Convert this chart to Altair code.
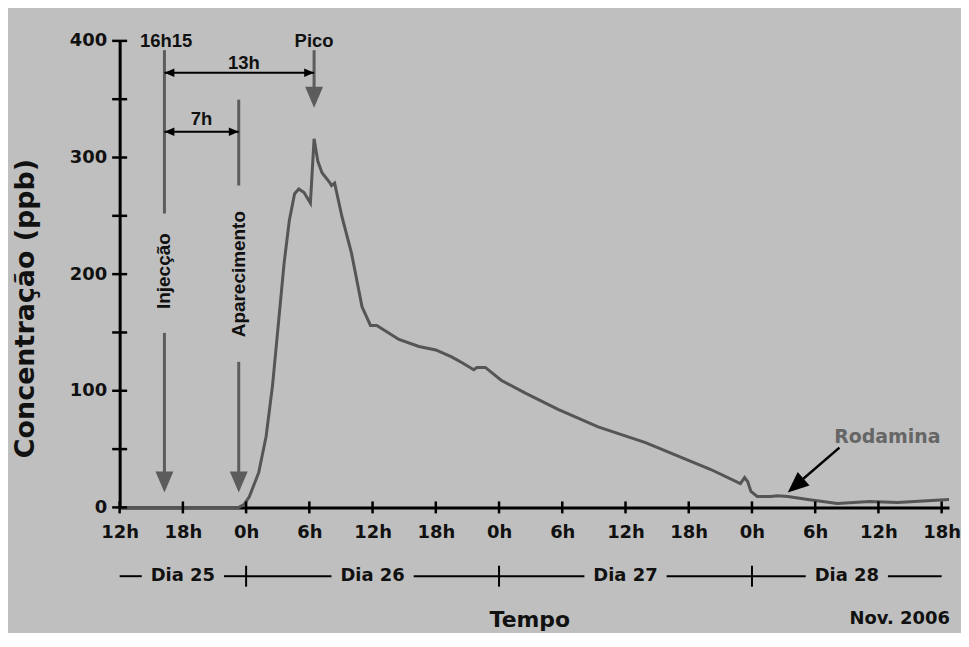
import altair as alt
import pandas as pd

# ---- data: hours since 12h of 25 Nov 2006, concentration (ppb) ----
hours = [0, 11.3, 11.8, 12.3, 13.2, 13.9, 14.5, 15.1, 15.6, 16.1,
         16.6, 17.0, 17.5, 18.1, 18.45, 18.8, 19.2, 19.9, 20.1, 20.4,
         21.1, 22.0, 23.0, 23.8, 24.4, 26.5, 28.4, 30.0, 31.5, 32.5,
         33.6, 33.9, 34.7, 36.2, 38.5, 41.6, 45.4, 49.9, 56.1, 58.9,
         59.3, 59.6, 59.9, 60.5, 61.8, 62.4, 63.4, 65.3, 68.1, 71.2,
         73.8, 78.7]
ppb = [0, 0, 2.5, 9, 30, 61, 104, 161, 209, 246,
       269, 273, 270, 261, 316, 297, 287, 279, 276, 278,
       249, 218, 172, 156, 156, 144, 138, 135, 129, 124,
       118, 120, 120, 109, 98, 84, 69, 55.5, 32.5, 20.5,
       25.6, 22, 13.7, 9.4, 9.4, 10, 9.4, 6.8, 3.4, 5,
       4.3, 6.8]

x_tick_values = list(range(0, 79, 6))          # 12h, 18h, 0h, ... 18h
y_label_values = [0, 100, 200, 300, 400]
y_tick_values = [0, 50, 100, 150, 200, 250, 300, 350, 400]

days = ["Dia 25", "Dia 26", "Dia 27", "Dia 28"]
day_start = [0, 12, 36, 60]
day_end = [12, 36, 60, 78]
day_boundaries = [12, 36, 60]

# annotation anchors (hours, ppb)
inj_h, app_h, pico_h = 4.25, 11.3, 18.45

# ---- styles ----
BG = "#bfbfbf"
CURVE = "#555555"
ANN_GREY = "#5c5c5c"
TXT = "#111111"
AX_FONT = "DejaVu Sans"
ANN_FONT = "Liberation Sans"
HEAD = "M-0.9,-2.1L0.9,-2.1L0,0Z"   # arrow head, tip at origin, pointing down

xs = alt.Scale(domain=[0, 78.7], nice=False, zero=False)
ys = alt.Scale(domain=[0, 400], nice=False)

ROW_Y = 537  # pixel row for the day bar (relative to plot top)


def X(field):
    return alt.X(field, scale=xs)


def Y(field):
    return alt.Y(field, scale=ys)


series = pd.DataFrame({"h": hours, "v": ppb})

line = alt.Chart(series).mark_line(color=CURVE, strokeWidth=3).encode(
    x=alt.X("h:Q", scale=xs, axis=alt.Axis(
        values=x_tick_values,
        labelExpr="((datum.value + 12) % 24) + 'h'",
        ticks=False, grid=False,
        domainColor="black", domainWidth=3,
        labelFont=AX_FONT, labelFontWeight="bold", labelFontSize=18,
        labelColor=TXT, labelPadding=25, labelBaseline="middle",
        labelFlush=False, labelOverlap=False, labelBound=False,
        title="Tempo", titleFont=AX_FONT, titleFontWeight="bold",
        titleFontSize=22, titleColor=TXT, titleX=411, titleY=112,
        titleBaseline="middle", titleAlign="center")),
    y=alt.Y("v:Q", scale=ys, axis=alt.Axis(
        values=y_label_values,
        ticks=False, grid=False,
        domainColor="black", domainWidth=3,
        labelFont=AX_FONT, labelFontWeight="bold", labelFontSize=18,
        labelColor=TXT, labelPadding=13, labelOverlap=False,
        labelFlush=False, labelBound=False,
        title="Concentração (ppb)", titleFont=AX_FONT,
        titleFontWeight="bold", titleFontSize=27, titleColor=TXT,
        titleAngle=270, titleX=-94, titleY=268, titleBaseline="middle",
        titleAlign="center")),
)

# crossing axis ticks
xt = pd.DataFrame({"h": x_tick_values, "v": [0] * len(x_tick_values)})
x_ticks = alt.Chart(xt).mark_tick(orient="vertical", size=12, thickness=2.5,
                                  color="black", opacity=1).encode(
    x=X("h:Q"), y=Y("v:Q"))

yt = pd.DataFrame({"v": y_tick_values, "h": [0] * len(y_tick_values)})
y_ticks = alt.Chart(yt).mark_tick(orient="horizontal", size=15, thickness=2.5,
                                  color="black", opacity=1).encode(
    x=X("h:Q"), y=Y("v:Q"))

# day bar
gap = 3.9
seg_a, seg_b = [], []
mids = []
for s, e in zip(day_start, day_end):
    m = (s + e) / 2
    mids.append(m)
    seg_a += [s, m + gap]
    seg_b += [m - gap, e]
segs = pd.DataFrame({"h": seg_a, "h2": seg_b})
day_rules = alt.Chart(segs).mark_rule(color="black", strokeWidth=2).encode(
    x=X("h:Q"), x2="h2:Q", y=alt.value(ROW_Y))
bd = pd.DataFrame({"h": day_boundaries})
day_ticks = alt.Chart(bd).mark_tick(orient="vertical", size=21, thickness=2,
                                    color="black", opacity=1).encode(
    x=X("h:Q"), y=alt.value(ROW_Y))
dl = pd.DataFrame({"h": mids, "t": days})
day_text = alt.Chart(dl).mark_text(font=AX_FONT, fontWeight="bold", fontSize=18,
                                   color=TXT, baseline="middle").encode(
    x=X("h:Q"), y=alt.value(ROW_Y), text="t:N")

nov = alt.Chart(pd.DataFrame({"t": ["Nov. 2006"]})).mark_text(
    font=AX_FONT, fontWeight="bold", fontSize=18, color=TXT,
    baseline="middle", align="center").encode(
    x=alt.value(782.5), y=alt.value(580), text="t:N")

# grey vertical arrows
gl = pd.DataFrame({"h": [inj_h, inj_h, app_h, app_h, pico_h],
                   "v": [392, 149.6, 349.6, 124.8, 392],
                   "v2": [252, 25, 276, 25, 357]})
grey_lines = alt.Chart(gl).mark_rule(color=ANN_GREY, strokeWidth=3).encode(
    x=X("h:Q"), y=Y("v:Q"), y2="v2:Q")
gh = pd.DataFrame({"h": [inj_h, app_h, pico_h], "v": [12.8, 12.8, 342.7]})
grey_heads = alt.Chart(gh).mark_point(shape=HEAD, size=400, filled=True,
                                      opacity=1, color=ANN_GREY, strokeWidth=0).encode(
    x=X("h:Q"), y=Y("v:Q"))

# black double arrows (7h, 13h)
da = pd.DataFrame({"h": [inj_h, inj_h], "h2": [app_h, pico_h], "v": [322, 372.6]})
dbl_lines = alt.Chart(da).mark_rule(color="black", strokeWidth=2).encode(
    x=X("h:Q"), x2="h2:Q", y=Y("v:Q"))
dh = pd.DataFrame({"h": [inj_h, app_h, inj_h, pico_h],
                   "v": [322, 322, 372.6, 372.6],
                   "ang": [90, 270, 90, 270]})
dbl_heads = alt.Chart(dh).mark_point(shape=HEAD, size=90, filled=True,
                                     opacity=1, color="black", strokeWidth=0).encode(
    x=X("h:Q"), y=Y("v:Q"), angle=alt.Angle("ang:Q", scale=None))

# Rodamina arrow
ra = pd.DataFrame({"h": [68.3], "v": [51.3], "h2": [64.1], "v2": [18.6]})
rod_line = alt.Chart(ra).mark_rule(color="black", strokeWidth=2.5).encode(
    x=X("h:Q"), x2="h2:Q", y=Y("v:Q"), y2="v2:Q")
rh = pd.DataFrame({"h": [63.4], "v": [12.8]})
rod_head = alt.Chart(rh).mark_point(shape=HEAD, size=400, filled=True, opacity=1,
                                    color="black", strokeWidth=0, angle=49).encode(
    x=X("h:Q"), y=Y("v:Q"))
rod_text = alt.Chart(pd.DataFrame({"h": [72.85], "v": [60.7], "t": ["Rodamina"]})).mark_text(
    font=AX_FONT, fontWeight="bold", fontSize=19, color="#666666",
    baseline="middle").encode(x=X("h:Q"), y=Y("v:Q"), text="t:N")

# annotation texts
at = pd.DataFrame({"h": [4.4, pico_h, 11.8, 7.76],
                   "v": [400, 400, 381, 333],
                   "t": ["16h15", "Pico", "13h", "7h"]})
ann_text = alt.Chart(at).mark_text(font=ANN_FONT, fontWeight="bold", fontSize=18.5,
                                   color=TXT, baseline="middle").encode(
    x=X("h:Q"), y=Y("v:Q"), text="t:N")
vt = pd.DataFrame({"h": [inj_h, app_h], "v": [202.6, 200],
                   "t": ["Injecção", "Aparecimento"]})
vert_text = alt.Chart(vt).mark_text(font=ANN_FONT, fontWeight="bold", fontSize=19,
                                    color=TXT, baseline="middle", angle=270).encode(
    x=X("h:Q"), y=Y("v:Q"), text="t:N")

chart = alt.layer(
    line, x_ticks, y_ticks, day_rules, day_ticks, day_text, nov,
    grey_lines, grey_heads, dbl_lines, dbl_heads, rod_line, rod_head,
    rod_text, ann_text, vert_text,
).properties(
    width=832, height=468,
    autosize="none",
    padding={"left": 112, "top": 32, "right": 12, "bottom": 125},
    background=BG,
).configure_view(stroke=None)

chart.save("out.html", embed_options={"renderer": "svg", "actions": False})
